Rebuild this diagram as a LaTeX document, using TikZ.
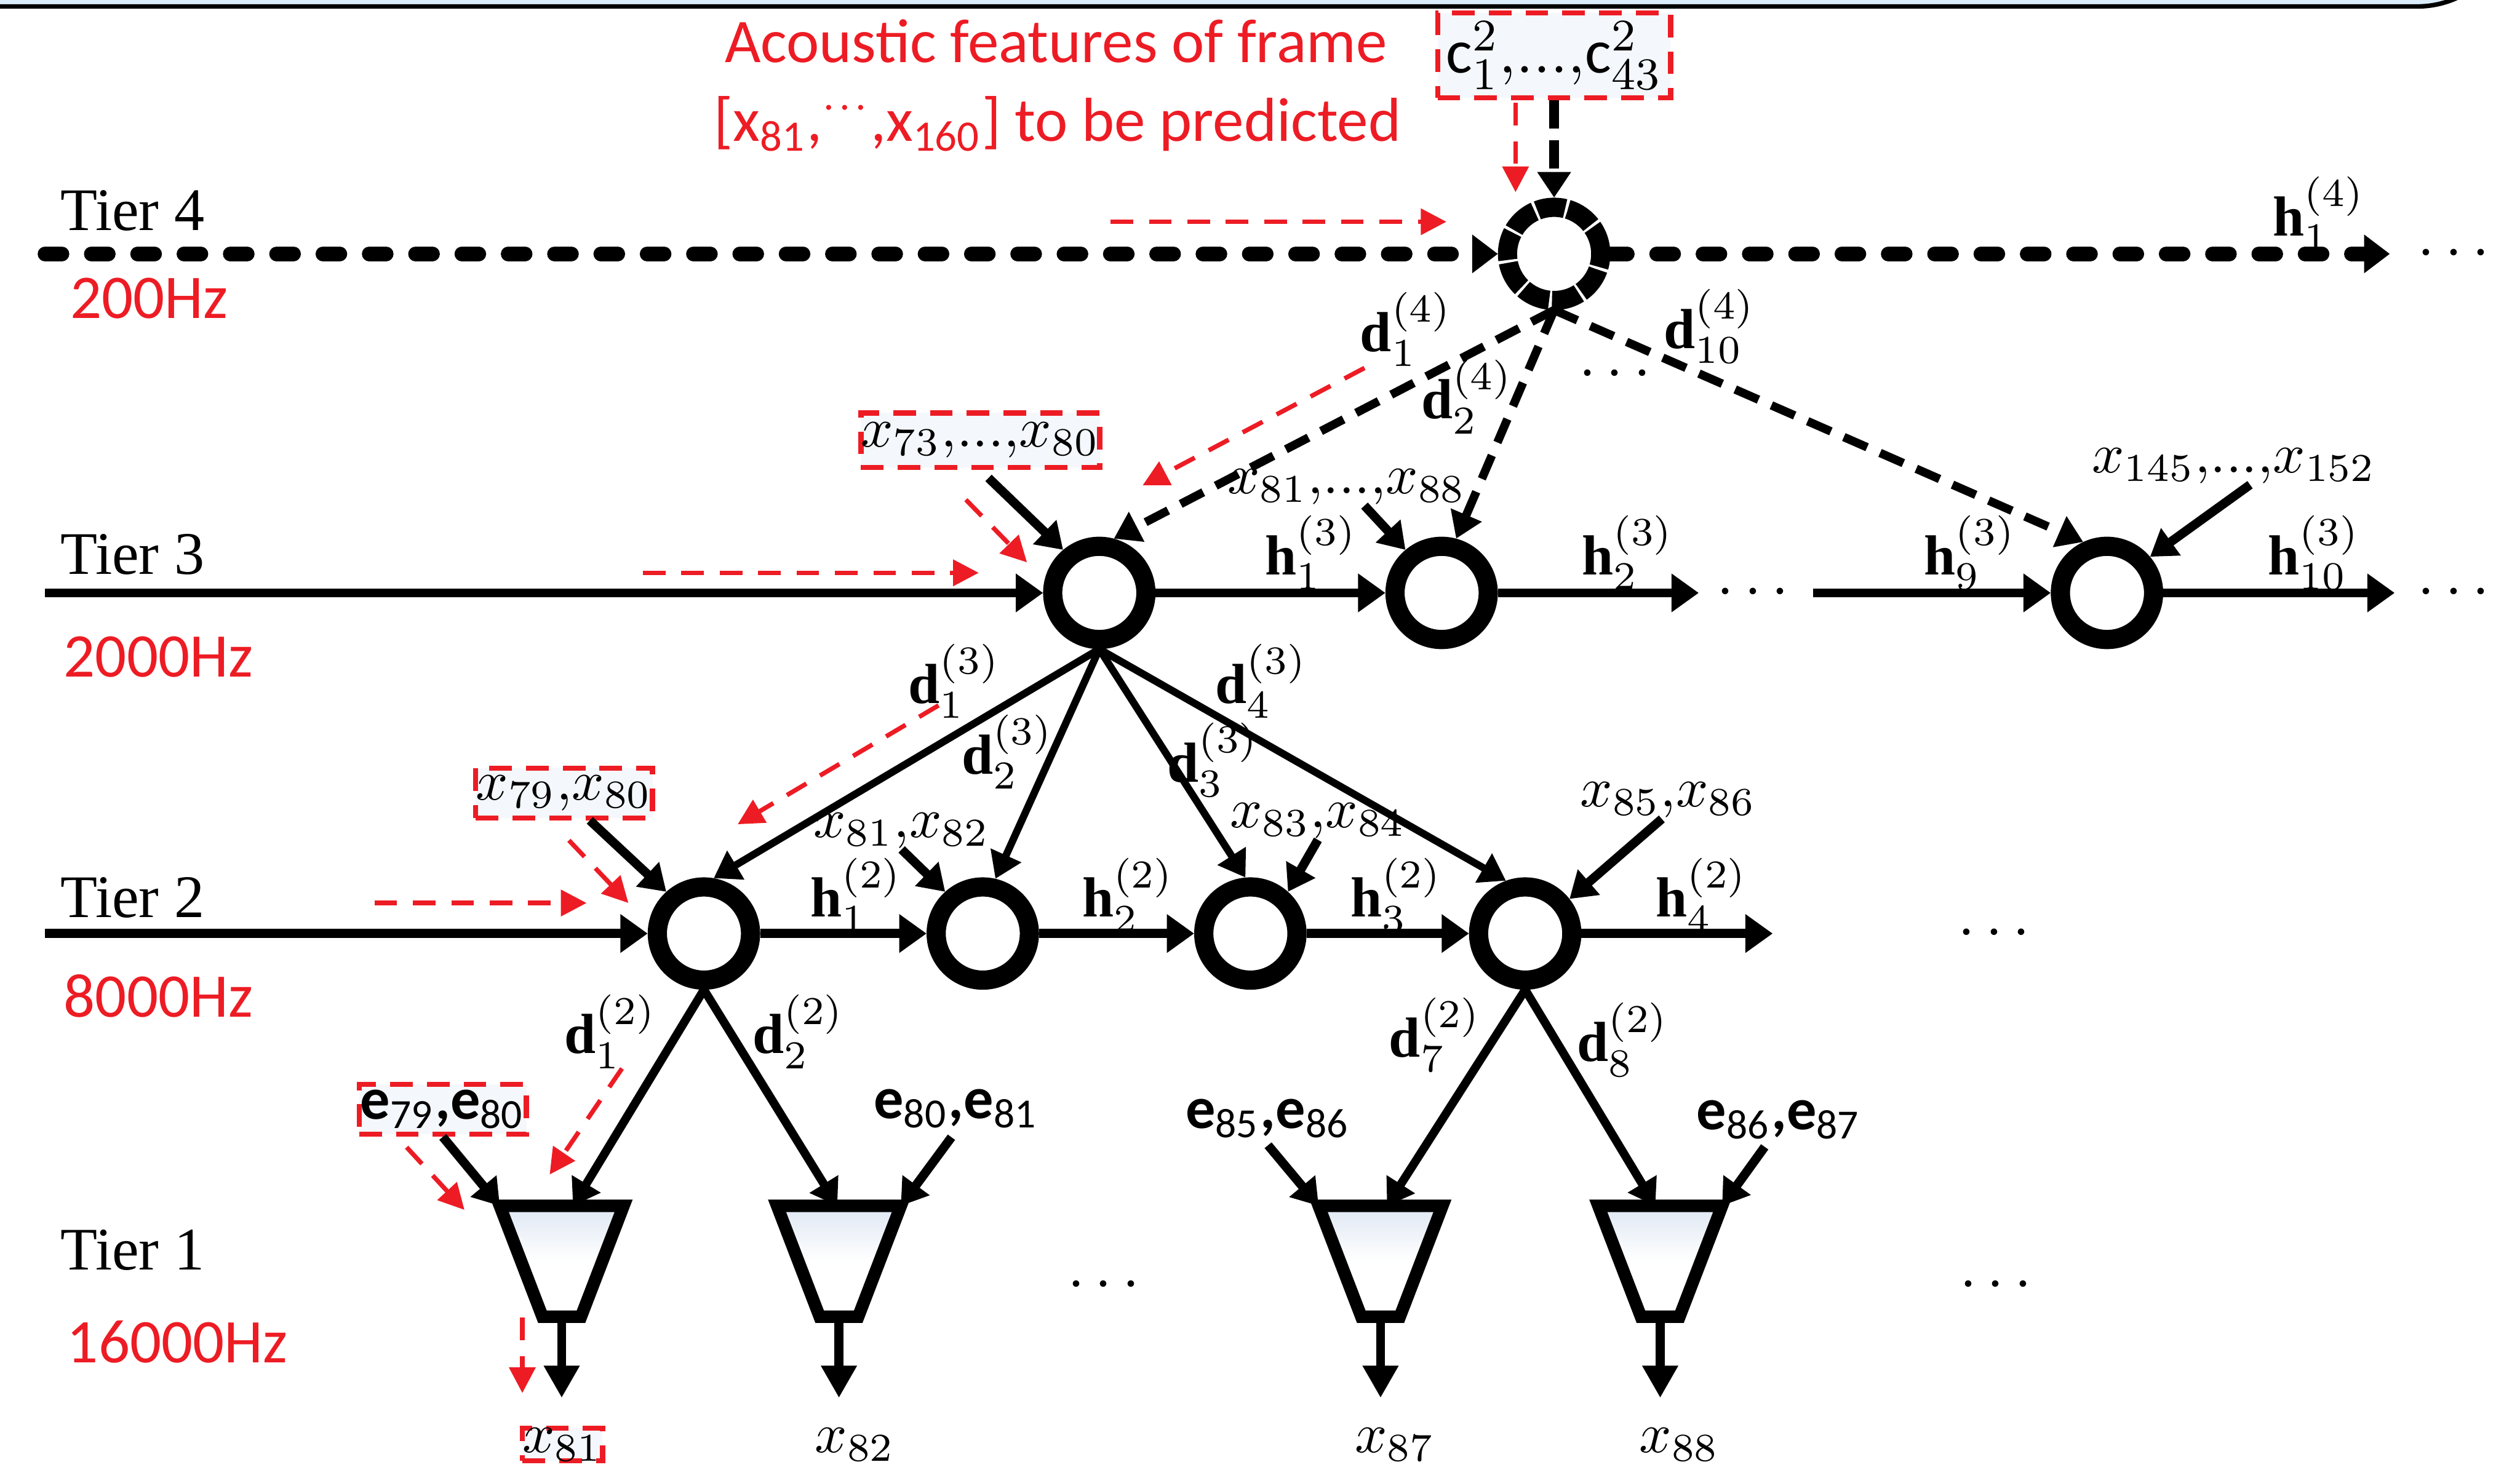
\documentclass[tikz,border=0pt]{standalone}
\usepackage{amsmath}
\usepackage{fontspec}
\setmainfont{Liberation Serif}
\newfontfamily\calib{Carlito}
\usepackage{tikz}
\usetikzlibrary{positioning,arrows.meta,calc}
\definecolor{hintred} {RGB}{237,28,36}
\definecolor{bandblue}{RGB}{218,236,250}
\definecolor{trapblue}{RGB}{222,231,243}
\definecolor{boxfill} {RGB}{244,247,251}
\newcommand{\tdots}{\!...,\!}

\begin{document}
\begin{tikzpicture}[
  unit/.style={circle,draw,line width=3.4pt,minimum size=0.58cm,
               inner sep=0pt,fill=white},
  unitd/.style={unit,dash pattern=on 5pt off 0.5pt},
  trap/.style={draw,line width=2.2pt,top color=trapblue,bottom color=white,
               middle color=white},
  tier/.style={font=\fontsize{10.7}{12}\selectfont,anchor=west,inner sep=0pt},
  rate/.style={font=\calib\fontsize{11}{13}\selectfont,text=hintred,
               anchor=west,inner sep=0pt},
  note/.style={font=\calib\fontsize{11}{13}\selectfont,text=hintred,
               anchor=base,inner sep=0pt},
  lbl/.style={font=\fontsize{10}{12}\selectfont,inner sep=0pt},
  xlbl/.style={font=\fontsize{10}{12}\selectfont,inner sep=0pt},
  elbl/.style={font=\calib\bfseries\fontsize{10.5}{12}\selectfont,inner sep=0pt},
  ell/.style={font=\fontsize{11}{13}\selectfont,inner sep=0pt},
  rbox/.style={rectangle,draw=hintred,dash pattern=on 4pt off 2.5pt,
               line width=0.9pt,fill=boxfill,inner sep=1.5pt},
  hop/.style={-{Triangle[length=1.7mm,width=2.3mm]},line width=1.6pt},
  hopd/.style={-{Triangle[length=1.6mm,width=2.3mm]},line width=2.6pt,
               line cap=round,dash pattern=on 3pt off 5.2pt},
  feed/.style={-{Triangle[length=1.6mm,width=2mm]},line width=1.6pt},
  feedd/.style={feed,line width=1.8pt,dash pattern=on 5pt off 2pt},
  dn/.style={-{Triangle[length=1.6mm,width=2mm]},line width=1.3pt},
  dnd/.style={dn,line width=1.5pt,dash pattern=on 4.5pt off 2.5pt},
  yield/.style={-{Triangle[length=2mm,width=2.1mm]},line width=1.6pt},
  hint/.style={-{Triangle[length=1.6mm,width=1.6mm]},draw=hintred,
               line width=0.8pt,dash pattern=on 4pt off 2.8pt},
]
\useasboundingbox (0,0) rectangle (15.68,-9.147);
% window edge
\draw[fill=bandblue,line width=0.8pt] (-0.2,0.4) -- (-0.2,-0.04) -- (15.04,-0.04)
  arc[start angle=-90,end angle=0,radius=0.6] -- (15.64,0.4) -- cycle;

% tier labels
\node[tier] (tier4) at (0.37,-1.31) {Tier 4};
\node[rate] (hz4)   at (0.43,-1.855) {200Hz};
\node[tier] (tier3) at (0.37,-3.45) {Tier 3};
\node[rate] (hz3)   at (0.39,-4.09) {2000Hz};
\node[tier] (tier2) at (0.37,-5.585) {Tier 2};
\node[rate] (hz2)   at (0.39,-6.20) {8000Hz};
\node[tier] (tier1) at (0.37,-7.78) {Tier 1};
\node[rate] (hz1)   at (0.41,-8.35) {16000Hz};

% units
\node[unitd] (c4)  at (9.67,-1.58) {};
\node[unit]  (c3a) at (6.84,-3.69) {};
\node[unit]  (c3b) at (8.97,-3.69) {};
\node[unit]  (c3c) at (13.11,-3.69) {};
\node[unit]  (c2a) at (4.38,-5.81) {};
\node[unit]  (c2b) at (6.115,-5.81) {};
\node[unit]  (c2c) at (7.78,-5.81) {};
\node[unit]  (c2d) at (9.49,-5.81) {};
% sample-level MLPs
\foreach \n/\x in {1/3.495,2/5.22,3/8.59,4/10.33}{
  \coordinate (tp\n) at (\x,-7.85);
  \draw[trap] ($(tp\n)+(-0.385,0.345)$) coordinate (tp\n tl)
    -- ($(tp\n)+(0.385,0.345)$) coordinate (tp\n tr)
    -- ($(tp\n)+(0.12,-0.345)$) -- ($(tp\n)+(-0.12,-0.345)$) -- cycle;
  \coordinate (tp\n t) at ($(tp\n)+(0,0.345)$);
  \coordinate (tp\n b) at ($(tp\n)+(0,-0.345)$);
}

% tier 4
\coordinate (s4) at (0.28,-1.58);
\coordinate (e4) at (14.87,-1.58);
\draw[hopd] (s4) -- (c4.west);
\draw[hopd] (c4.east) -- (e4);
\node[lbl] (h14) at (14.43,-1.33) {$\mathbf{h}_1^{(4)}$};
\node[ell] at (15.30,-1.58) {$\cdots$};
\node[note] (note1) at (6.57,-0.39) {Acoustic features of frame};
\node[note] (note2) at (6.58,-0.88)
  {[x\textsubscript{81},\textsuperscript{$\cdot\!\cdot\!\cdot$},x\textsubscript{160}] to be predicted};
\node[rbox,minimum width=1.42cm,minimum height=0.43cm,font=\fontsize{11}{13}\selectfont]
  (cbox) at (9.67,-0.345) {$\text{\calib c}_1^2,\tdots\text{\calib c}_{43}^2$};
\draw[feedd] (cbox.south) -- (c4.north);

% tier 4 -> tier 3
\draw[dnd] (c4.south) -- (c3a.75);
\draw[dnd] (c4.south) -- (c3b.75);
\draw[dnd] (c4.south) -- (c3c.115);
\node[lbl] (d14)  at (8.75,-2.05)  {$\mathbf{d}_1^{(4)}$};
\node[lbl] (d24)  at (9.13,-2.47)  {$\mathbf{d}_2^{(4)}$};
\node[lbl] (d104) at (10.64,-2.03) {$\mathbf{d}_{10}^{(4)}$};
\node[ell] at (10.08,-2.33) {$\cdots$};

% tier 3
\coordinate (s3)  at (0.28,-3.69);
\coordinate (e3b) at (10.57,-3.69);
\coordinate (r3)  at (11.28,-3.69);
\coordinate (e3c) at (14.90,-3.69);
\draw[hop] (s3) -- (c3a.west);
\draw[hop] (c3a.east) -- (c3b.west);
\draw[hop] (c3b.east) -- (e3b);
\draw[hop] (r3) -- (c3c.west);
\draw[hop] (c3c.east) -- (e3c);
\node[ell] at (10.94,-3.69) {$\cdots$};
\node[ell] at (15.30,-3.69) {$\cdots$};
\node[lbl] (h13)  at (8.16,-3.44)  {$\mathbf{h}_1^{(3)}$};
\node[lbl] (h23)  at (10.13,-3.44) {$\mathbf{h}_2^{(3)}$};
\node[lbl] (h93)  at (12.26,-3.44) {$\mathbf{h}_9^{(3)}$};
\node[lbl] (h103) at (14.40,-3.44) {$\mathbf{h}_{10}^{(3)}$};
\node[rbox,xlbl,minimum width=1.48cm,minimum height=0.34cm] (bx73) at (6.10,-2.74)
  {$x_{73},\tdots x_{80}$};
\node[xlbl] (lx81)  at (8.38,-3.03)  {$x_{81},\tdots x_{88}$};
\node[xlbl] (lx145) at (13.90,-2.90) {$x_{145},\tdots x_{152}$};
\draw[feed,shorten <=2pt] (bx73.south) -- (c3a.130);
\draw[feed] ($(lx81.south)+(0.11,0)$) -- (c3b.130);
\draw[feed] ($(lx145.south)+(0.1,0)$) -- (c3c.40);

% tier 3 -> tier 2
\draw[dn] (c3a.south) -- (c2a.80);
\draw[dn] (c3a.south) -- (c2b.77);
\draw[dn] (c3a.south) -- (c2c.95);
\draw[dn] (c3a.south) -- (c2d.110);
\node[lbl] (d13) at (5.94,-4.24) {$\mathbf{d}_1^{(3)}$};
\node[lbl] (d23) at (6.27,-4.68) {$\mathbf{d}_2^{(3)}$};
\node[lbl] (d33) at (7.55,-4.73) {$\mathbf{d}_3^{(3)}$};
\node[lbl] (d43) at (7.85,-4.24) {$\mathbf{d}_4^{(3)}$};

% tier 2
\coordinate (s2) at (0.28,-5.81);
\coordinate (e2) at (11.03,-5.81);
\draw[hop] (s2) -- (c2a.west);
\draw[hop] (c2a.east) -- (c2b.west);
\draw[hop] (c2b.east) -- (c2c.west);
\draw[hop] (c2c.east) -- (c2d.west);
\draw[hop] (c2d.east) -- (e2);
\node[ell] at (12.44,-5.81) {$\cdots$};
\node[lbl] (h12) at (5.33,-5.57)  {$\mathbf{h}_1^{(2)}$};
\node[lbl] (h22) at (7.02,-5.57)  {$\mathbf{h}_2^{(2)}$};
\node[lbl] (h32) at (8.69,-5.57)  {$\mathbf{h}_3^{(2)}$};
\node[lbl] (h42) at (10.59,-5.57) {$\mathbf{h}_4^{(2)}$};
\node[rbox,xlbl,minimum width=1.10cm,minimum height=0.31cm] (bx79) at (3.51,-4.935)
  {$x_{79},\!x_{80}$};
\node[xlbl] (lx812) at (5.61,-5.17)  {$x_{81},\!x_{82}$};
\node[xlbl] (lx834) at (8.20,-5.11)  {$x_{83},\!x_{84}$};
\node[xlbl] (lx856) at (10.38,-4.98) {$x_{85},\!x_{86}$};
\draw[feed] ($(bx79.south)+(0.16,0)$) -- (c2a.132);
\draw[feed] (lx812.south) -- (c2b.132);
\draw[feed] (lx834.south) -- (c2c.48);
\draw[feed] ($(lx856.south)+(-0.04,0)$) -- (c2d.38);

% tier 2 -> tier 1
\draw[dn,line width=1.5pt] (c2a.south) -- ($(tp1t)+(0.07,0)$);
\draw[dn,line width=1.5pt] (c2a.south) -- ($(tp2t)+(-0.01,0)$);
\draw[dn,line width=1.5pt] (c2d.south) -- ($(tp3t)+(0.04,0)$);
\draw[dn,line width=1.5pt] (c2d.south) -- ($(tp4t)+(-0.03,0)$);
\node[lbl] (d12) at (3.80,-6.42)  {$\mathbf{d}_1^{(2)}$};
\node[lbl] (d22) at (4.97,-6.42)  {$\mathbf{d}_2^{(2)}$};
\node[lbl] (d72) at (8.93,-6.44)  {$\mathbf{d}_7^{(2)}$};
\node[lbl] (d82) at (10.10,-6.47) {$\mathbf{d}_8^{(2)}$};

% tier 1
\node[rbox,elbl,minimum width=1.04cm,minimum height=0.31cm] (be79) at (2.755,-6.905)
  {e\textsubscript{\mdseries 79},e\textsubscript{\mdseries 80}};
\node[elbl] (le801) at (5.95,-6.90)  {e\textsubscript{\mdseries 80},e\textsubscript{\mdseries 81}};
\node[elbl] (le856) at (7.89,-6.96)  {e\textsubscript{\mdseries 85},e\textsubscript{\mdseries 86}};
\node[elbl] (le867) at (11.07,-6.97) {e\textsubscript{\mdseries 86},e\textsubscript{\mdseries 87}};
\draw[feed] (be79.south) -- (tp1tl);
\draw[feed] ($(le801.south)+(-0.03,-0.05)$) -- (tp2tr);
\draw[feed] ($(le856.south)+(0,-0.04)$) -- (tp3tl);
\draw[feed] ($(le867.south)+(-0.09,-0.04)$) -- (tp4tr);
\coordinate (o1) at (3.495,-8.70);
\coordinate (o2) at (5.22,-8.70);
\coordinate (o3) at (8.59,-8.70);
\coordinate (o4) at (10.33,-8.70);
\draw[yield] (tp1b) -- (o1);
\draw[yield] (tp2b) -- (o2);
\draw[yield] (tp3b) -- (o3);
\draw[yield] (tp4b) -- (o4);
\node[rbox,xlbl,anchor=base] (x81) at (3.50,-9.04) {$x_{81}$};
\node[xlbl,anchor=base] (x82) at (5.32,-9.04) {$x_{82}$};
\node[xlbl,anchor=base] (x87) at (8.68,-9.04) {$x_{87}$};
\node[xlbl,anchor=base] (x88) at (10.45,-9.04) {$x_{88}$};
\node[ell] at (6.90,-8.00) {$\cdots$};
\node[ell] at (12.45,-8.00) {$\cdots$};

% red hints
\coordinate (ha1)  at (9.43,-0.64);  \coordinate (hb1)  at (9.43,-1.196);
\coordinate (ha2)  at (6.91,-1.38);  \coordinate (hb2)  at (9.00,-1.38);
\coordinate (ha3)  at (8.49,-2.29);  \coordinate (hb3)  at (7.11,-3.02);
\coordinate (ha4)  at (6.01,-3.11);  \coordinate (hb4)  at (6.39,-3.50);
\coordinate (ha5)  at (4.00,-3.565); \coordinate (hb5)  at (6.09,-3.565);
\coordinate (ha6)  at (5.84,-4.39);  \coordinate (hb6)  at (4.59,-5.13);
\coordinate (ha7)  at (3.54,-5.23);  \coordinate (hb7)  at (3.91,-5.62);
\coordinate (ha8)  at (2.33,-5.62);  \coordinate (hb8)  at (3.65,-5.62);
\coordinate (ha9)  at (3.87,-6.65);  \coordinate (hb9)  at (3.42,-7.31);
\coordinate (ha10) at (2.53,-7.14);  \coordinate (hb10) at (2.89,-7.53);
\coordinate (ha11) at (3.25,-8.20);  \coordinate (hb11) at (3.25,-8.67);
\draw[hint] (ha1) -- (hb1);
\draw[hint] (ha2) -- (hb2);
\draw[hint] (ha3) -- (hb3);
\draw[hint] (ha4) -- (hb4);
\draw[hint] (ha5) -- (hb5);
\draw[hint] (ha6) -- (hb6);
\draw[hint] (ha7) -- (hb7);
\draw[hint] (ha8) -- (hb8);
\draw[hint] (ha9) -- (hb9);
\draw[hint] (ha10) -- (hb10);
\draw[hint] (ha11) -- (hb11);
\end{tikzpicture}
\end{document}
